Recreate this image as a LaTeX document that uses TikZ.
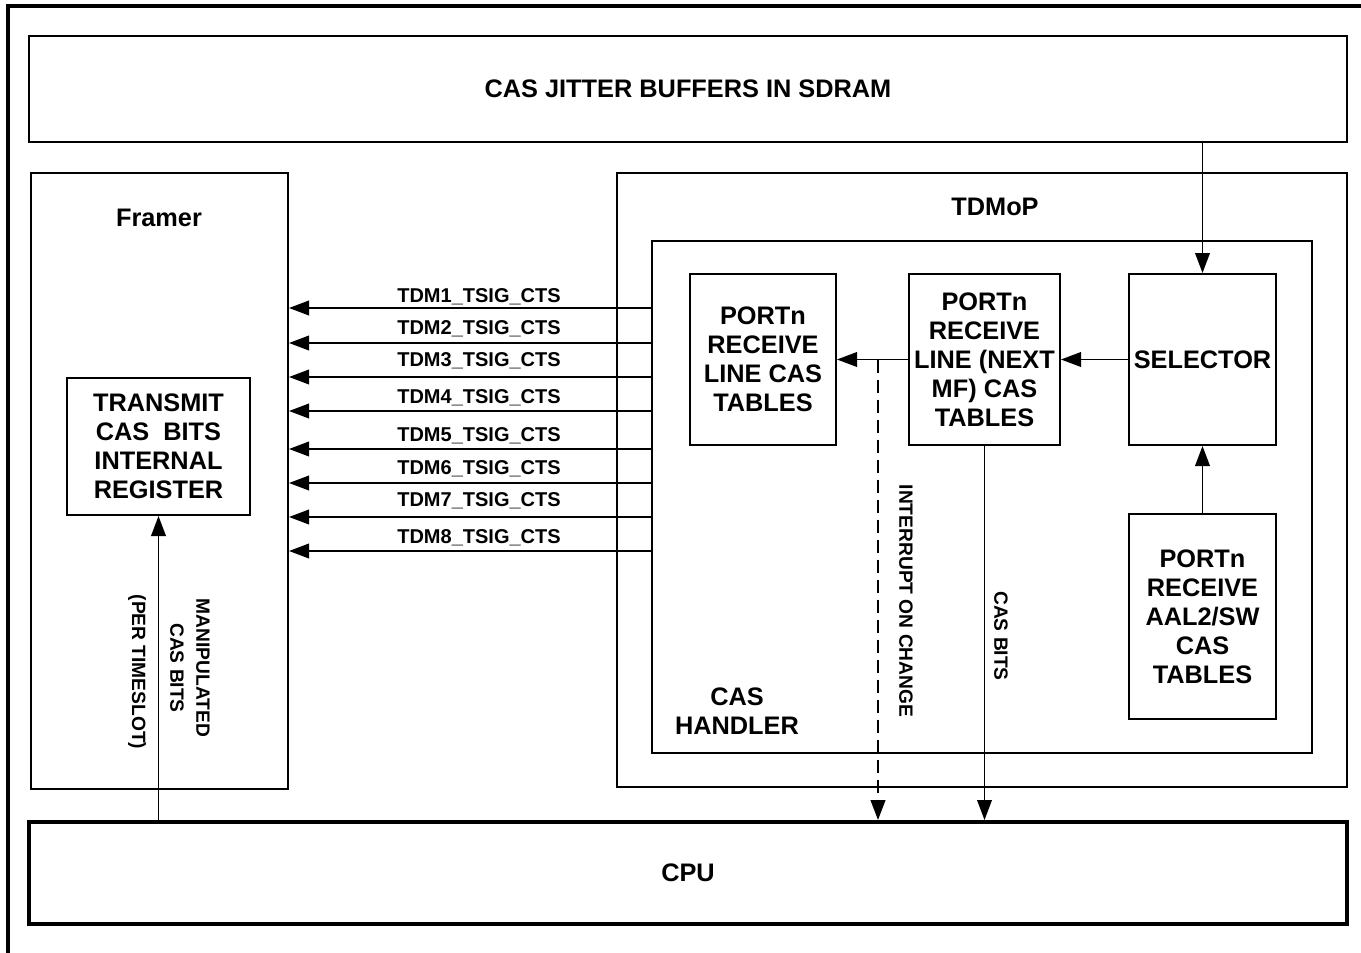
\documentclass[tikz,border=0pt]{standalone}
\usepackage{fontspec}
\setmainfont{Liberation Sans}
\usetikzlibrary{arrows.meta, positioning, calc}
\newcommand{\blkfont}{\fontsize{19}{21.75}\selectfont\bfseries}
\newcommand{\sigfont}{\fontsize{15}{18}\selectfont\bfseries}
\newcommand{\vlfont}{\fontsize{14.4}{19.5}\selectfont\bfseries}
\tikzset{
  blk/.style={rectangle,draw=black,line width=1.5pt,inner sep=0pt,align=center,font=\blkfont},
  cpubox/.style={blk,line width=3pt},
  lbl/.style={font=\blkfont,inner sep=0pt,align=center},
  sig/.style={font=\sigfont,inner sep=0pt},
  vlbl/.style={font=\vlfont,inner sep=0pt,align=center,rotate=-90},
  arr/.style={-{Triangle[length=15pt,width=11pt]},line width=1.2pt},
  irqline/.style={arr,line width=1.6pt,dash pattern=on 10pt off 5pt},
  frame/.style={line width=2.4pt}
}

\begin{document}
\begin{tikzpicture}[x=0.75pt,y=-0.75pt]
  \useasboundingbox (0,0) rectangle (1361,953);
  \draw[frame] (8,953) -- (8,6) -- (1361,6);

  % outer blocks
  \node[blk, minimum width=988.5pt, minimum height=79.5pt] (sdram) at (688,89) {CAS JITTER BUFFERS IN SDRAM};
  \node[cpubox, minimum width=988.5pt, minimum height=76.5pt] (cpu) at (688,873) {CPU};
  \node[blk, minimum width=192.75pt, minimum height=462pt] (framer) at (159.5,481) {};
  \node[lbl] at (159,218) {Framer};
  \node[blk, minimum width=137.25pt, minimum height=102.75pt] (reg) at (158.5,446.5)
    {TRANSMIT\\CAS~ BITS\\INTERNAL\\REGISTER};

  % TDMoP and CAS handler
  \node[blk, minimum width=547.5pt, minimum height=460.5pt] (tdmop) at (982,480) {};
  \node[lbl] at (995,207) {TDMoP};
  \node[blk, minimum width=495pt, minimum height=384pt] (handler) at (982,497) {};
  \node[lbl] at (737,711) {CAS\\HANDLER};

  \node[blk, minimum width=109.5pt, minimum height=128.25pt] (linecas) at (763,359.5)
    {PORTn\\RECEIVE\\LINE CAS\\TABLES};
  \node[blk, minimum width=113.25pt, minimum height=128.25pt] (nextmf) at (984.5,359.5)
    {PORTn\\RECEIVE\\LINE (NEXT\\MF) CAS\\TABLES};
  \node[blk, minimum width=110.25pt, minimum height=128.25pt] (sel) at (1202.5,359.5) {SELECTOR};
  \node[blk, minimum width=110.25pt, minimum height=153.75pt] (aal) at (1202.5,616.5)
    {PORTn\\RECEIVE\\AAL2/SW\\CAS\\TABLES};

  % connectors
  \draw[arr] (sdram.south -| sel.north) -- (sel.north);
  \draw[arr] (sel) -- (nextmf);
  \draw[arr] (nextmf) -- (linecas);
  \draw[arr] (aal.north) -- (sel.south);
  \coordinate (irq) at (878,359.5);
  \draw[irqline] (irq) -- (irq |- cpu.north);
  \draw[arr] (nextmf.south) -- (nextmf.south |- cpu.north);
  \draw[arr] (cpu.north -| reg.south) -- (reg.south);

  \foreach \i/\y/\ly in {1/308/297, 2/343/329, 3/377/361, 4/411/398, 5/449/436, 6/483/469, 7/517/501, 8/551/538}{
    \coordinate (t\i) at (0,\y);
    \draw[arr] (handler.west |- t\i) -- (framer.east |- t\i);
    \node[sig] (s\i) at (479,\ly) {TDM\i\_TSIG\_CTS};
  }

  % vertical labels
  \node[vlbl] (manip) at (190,668) {MANIPULATED\\CAS BITS};
  \node[vlbl] (perts) at (137,672) {(PER TIMESLOT)};
  \node[vlbl] (ioc) at (906,601) {INTERRUPT ON CHANGE};
  \node[vlbl] (casb) at (1001,636) {CAS BITS};
\end{tikzpicture}
\end{document}
